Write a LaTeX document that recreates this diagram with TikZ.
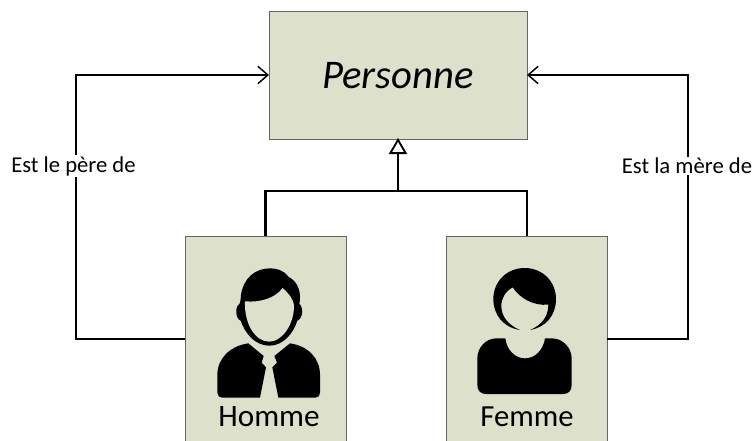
\documentclass[tikz,border=0pt]{standalone}
\usepackage{fontspec}
\setmainfont{Carlito}
\usetikzlibrary{arrows.meta}
\definecolor{boxfill}{HTML}{DDE0CB}
\tikzset{
  x=0.75pt,y=-0.75pt,
  classbox/.style={draw=black!60,line width=0.75pt,fill=boxfill,inner sep=0,anchor=north west},
  link/.style={draw=black,line width=1.6pt},
  assoc/.style={link,-{Straight Barb[length=7.5pt,width=13pt,line width=1.1pt]}},
  inherit/.style={link,-{Triangle[open,fill=white,length=12pt,width=13.5pt,line width=1.4pt]}},
  rolelabel/.style={fill=white,inner xsep=0pt,inner ysep=1pt,font=\fontsize{17}{19}\selectfont},
  icon/.style={fill=black,draw=none},
  iconcut/.style={fill=boxfill,draw=none},
  zoomed/.style={x=0.25pt,y=-0.25pt},
}
\begin{document}
\begin{tikzpicture}
\useasboundingbox (0,0) rectangle (752,440);
\clip (0,0) rectangle (752,440);
\node[classbox,minimum width=193.5pt,minimum height=96pt] (personne) at (269,11) {};
\node[font=\fontsize{30.5}{33}\selectfont\itshape] (ptext) at (398,76) {Personne};
\node[classbox,minimum width=120.75pt,minimum height=165pt] (homme) at (185,236) {};
\node[classbox,minimum width=120.75pt,minimum height=165pt] (femme) at (446,236) {};
\node[font=\fontsize{23.4}{26}\selectfont] (htext) at (269,417) {Homme};
\node[font=\fontsize{23}{26}\selectfont] (ftext) at (527,417) {Femme};
\coordinate (junction) at (398,191);
\coordinate (hup) at (265.5,236);
\coordinate (fup) at (527,236);
\coordinate (hl) at (185,339);
\coordinate (fr) at (607,339);
\coordinate (pl) at (269,75);
\coordinate (pr) at (527,75);
\coordinate (pb) at (398,138);
\draw[link] (hup) |- (junction) -| (fup);
\draw[inherit] (junction) -- (pb);
\draw[assoc] (hl) -| (76,75) -- (pl);
\draw[assoc] (fr) -| (688,75) -- (pr);
\node[rolelabel] (pere) at (73.5,166) {Est le père de};
\node[rolelabel] (mere) at (687,166) {Est la mère de};
% man
\begin{scope}[shift={(180,230)},zoomed]
\fill[icon] (270,115) .. controls (225,115) and (190,145) .. (183,195)
  .. controls (182,210) and (180,220) .. (178,222)
  .. controls (165,230) and (165,265) .. (182,272)
  .. controls (195,310) and (225,347) .. (268,347)
  .. controls (310,347) and (340,310) .. (352,272)
  .. controls (370,265) and (370,230) .. (358,222)
  .. controls (365,190) and (355,155) .. (325,140)
  .. controls (310,120) and (290,115) .. (270,115) -- cycle;
\fill[iconcut] (195,214) .. controls (240,218) and (285,205) .. (308,174)
  .. controls (325,190) and (340,205) .. (342,228)
  .. controls (342,285) and (305,335) .. (268,335)
  .. controls (225,335) and (192,280) .. (195,214) -- cycle;
\fill[icon] (205,340) -- (251,378) -- (245,398) -- (258,412) -- (240,503) -- (127,503)
  .. controls (118,503) and (112,497) .. (112,488) -- (112,435)
  .. controls (112,385) and (150,348) .. (205,340) -- cycle;
\fill[icon] (330,340) -- (283,378) -- (291,398) -- (277,412) -- (295,503) -- (406,503)
  .. controls (415,503) and (420,497) .. (420,488) -- (420,435)
  .. controls (420,385) and (385,348) .. (330,340) -- cycle;
\end{scope}
% woman
\begin{scope}[shift={(440,230)},zoomed]
\fill[icon] (240,300) .. controls (190,292) and (160,255) .. (160,207)
  .. controls (160,155) and (200,114) .. (254,114)
  .. controls (308,114) and (348,155) .. (348,207)
  .. controls (348,255) and (318,292) .. (270,300)
  .. controls (305,285) and (325,260) .. (325,224)
  .. controls (280,228) and (240,205) .. (218,172)
  .. controls (195,185) and (184,205) .. (184,228)
  .. controls (184,260) and (205,285) .. (240,300) -- cycle;
\fill[icon] (170,325) -- (196,325)
  .. controls (200,360) and (225,385) .. (255,385)
  .. controls (285,385) and (310,360) .. (315,325)
  -- (335,325) .. controls (370,325) and (395,355) .. (395,385)
  -- (395,465) .. controls (395,482) and (385,492) .. (370,492)
  -- (137,492) .. controls (122,492) and (112,482) .. (112,465)
  -- (112,385) .. controls (112,355) and (135,325) .. (170,325) -- cycle;
\end{scope}
\end{tikzpicture}
\end{document}
